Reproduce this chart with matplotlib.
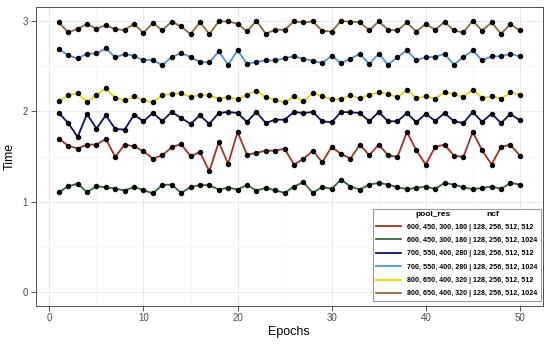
import matplotlib
matplotlib.use("Agg")
import matplotlib.pyplot as plt

epochs = list(range(1, 51))

red = [1.695,1.621,1.588,1.632,1.632,1.695,1.496,1.632,1.613,1.558,1.477,1.514,1.602,1.639,1.503,1.551,1.337,
       1.661,1.418,1.772,1.521,1.540,1.565,1.565,1.588,1.411,1.474,1.565,1.437,1.606,1.529,1.477,1.632,1.514,
       1.632,1.514,1.496,1.772,1.569,1.411,1.606,1.632,1.510,1.496,1.772,1.569,1.411,1.606,1.632,1.510]
green = [1.105,1.171,1.201,1.105,1.171,1.160,1.146,1.124,1.164,1.127,1.094,1.186,1.190,1.098,1.160,1.186,1.182,
         1.135,1.157,1.135,1.186,1.124,1.153,1.127,1.098,1.168,1.216,1.098,1.164,1.142,1.245,1.168,1.135,1.190,
         1.208,1.190,1.160,1.139,1.153,1.168,1.142,1.208,1.190,1.160,1.139,1.153,1.168,1.142,1.208,1.190]
navy = [1.982,1.871,1.717,1.971,1.809,1.956,1.805,1.798,1.963,1.890,1.982,1.893,1.993,1.927,1.861,1.956,1.861,
        1.982,1.993,1.982,1.883,1.993,1.871,1.908,1.908,1.993,1.982,1.993,1.890,1.879,1.993,1.989,1.982,1.890,
        1.993,1.890,1.890,1.982,1.879,1.975,1.893,1.982,1.890,1.871,1.993,1.883,1.975,1.871,1.971,1.901]
lightblue = [2.689,2.619,2.586,2.638,2.641,2.696,2.597,2.634,2.615,2.564,2.571,2.509,2.601,2.645,2.601,2.546,2.542,
             2.663,2.516,2.674,2.527,2.546,2.564,2.564,2.590,2.608,2.582,2.560,2.534,2.615,2.534,2.582,2.638,2.523,
             2.638,2.516,2.601,2.674,2.564,2.601,2.601,2.638,2.516,2.601,2.674,2.564,2.608,2.608,2.638,2.608]
yellow = [2.111,2.177,2.203,2.103,2.177,2.258,2.148,2.122,2.166,2.129,2.100,2.184,2.188,2.203,2.159,2.184,2.181,
          2.137,2.159,2.137,2.184,2.229,2.155,2.129,2.100,2.166,2.111,2.203,2.166,2.137,2.137,2.177,2.144,2.184,
          2.210,2.192,2.155,2.240,2.148,2.166,2.140,2.210,2.192,2.159,2.240,2.148,2.166,2.140,2.210,2.184]
brown = [2.984,2.873,2.914,2.966,2.914,2.955,2.906,2.903,2.966,2.866,2.980,2.895,2.994,2.939,2.855,2.987,2.855,
         2.995,2.995,2.969,2.884,3.002,2.859,2.903,2.903,2.995,2.984,2.995,2.892,2.881,3.002,2.991,2.988,2.895,
         2.995,2.903,2.895,2.984,2.881,2.969,2.903,2.988,2.895,2.873,3.002,2.892,2.984,2.859,2.962,2.895]

series = [red, green, navy, lightblue, yellow, brown]
labels = [
    "600, 450, 300, 180 | 128, 256, 512, 512",
    "600, 450, 300, 180 | 128, 256, 512, 1024",
    "700, 550, 400, 280 | 128, 256, 512, 512",
    "700, 550, 400, 280 | 128, 256, 512, 1024",
    "800, 650, 400, 320 | 128, 256, 512, 512",
    "800, 650, 400, 320 | 128, 256, 512, 1024",
]
colors = ["#A3321F", "#2F6B3A", "#0E0E70", "#4D90E0", "#E6D400", "#8C6D3A"]
xticks = [0, 10, 20, 30, 40, 50]
yticks = [0, 1, 2, 3]

plt.rcParams['font.family'] = ['Liberation Sans', 'DejaVu Sans']

fig = plt.figure(figsize=(5.5, 3.45), dpi=100)
ax = fig.add_axes([0.065, 0.114, 0.922, 0.865])

handles = []
for vals, c, lab in zip(series, colors, labels):
    h, = ax.plot(epochs, vals, color=c, lw=1.3, label=lab, zorder=2)
    handles.append(h)
for vals in series:
    ax.plot(epochs, vals, linestyle='none', marker='o', ms=2.9, color='black', zorder=3)

ax.set_xlim(-1.45, 52.45)
ax.set_ylim(-0.15, 3.152)
ax.set_xticks(xticks)
ax.set_yticks(yticks)
ax.set_xticks([5, 15, 25, 35, 45], minor=True)
ax.set_yticks([0.5, 1.5, 2.5], minor=True)
ax.grid(which='major', color='#EBEBEB', lw=0.7, zorder=0)
ax.grid(which='minor', color='#F3F3F3', lw=0.4, zorder=0)
ax.set_axisbelow(True)
ax.tick_params(which='major', length=3.5, width=0.6, color='#333333', labelsize=7, labelcolor='#4D4D4D', pad=2)
ax.tick_params(which='minor', length=0)
for s in ax.spines.values():
    s.set_color('#333333')
    s.set_linewidth(0.6)

ax.set_xlabel("Epochs", fontsize=9, color='black', labelpad=2)
ax.set_ylabel("Time", fontsize=9, color='black', labelpad=5)

legfont = {'family': ['Liberation Sans', 'DejaVu Sans'], 'weight': 'bold', 'size': 5.1}
titlefont = {'family': ['Liberation Sans', 'DejaVu Sans'], 'weight': 'bold', 'size': 3.5}
leg = ax.legend(handles=handles, loc='lower right', bbox_to_anchor=(0.9963, 0.0157),
                title=" ", prop=legfont, title_fontproperties=titlefont, frameon=True,
                fancybox=False, edgecolor='#9A9A9A', framealpha=1.0, handlelength=3.5,
                handletextpad=0.85, labelspacing=0.9, borderaxespad=0.0, borderpad=0.5)
leg.get_frame().set_linewidth(0.8)

fig.text(433 / 550, 1 - 214 / 345, "pool_res", ha='center', va='center',
         fontsize=6, fontweight='bold', family=['Liberation Sans', 'DejaVu Sans'])
fig.text(493 / 550, 1 - 214 / 345, "ncf", ha='center', va='center',
         fontsize=6, fontweight='bold', family=['Liberation Sans', 'DejaVu Sans'])

fig.savefig("out.png", dpi=100)
